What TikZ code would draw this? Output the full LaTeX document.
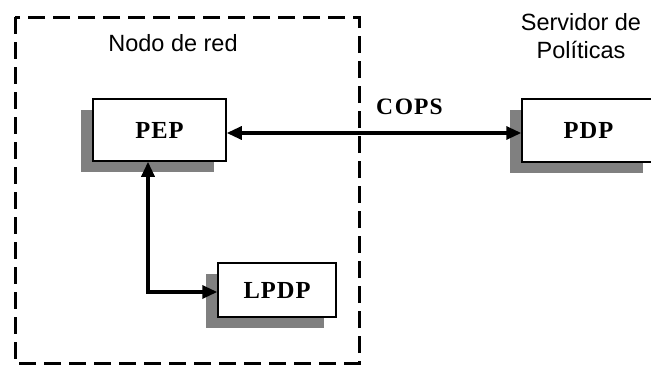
\documentclass[tikz,border=0pt]{standalone}
\usepackage{fontspec}
\setmainfont{Liberation Serif}
\newfontfamily\labelfont{Liberation Sans}
\usetikzlibrary{arrows.meta,shadows}

\definecolor{shadowgray}{HTML}{808080}

\tikzset{
  block/.style={draw=black, line width=1.5pt, fill=white, inner sep=0pt,
    font=\fontsize{24.5}{27}\selectfont\bfseries,
    drop shadow={shadow xshift=-12.5pt, shadow yshift=-11pt,
      fill=shadowgray, opacity=1}},
  caption/.style={font=\labelfont\fontsize{23.5}{28}\selectfont, align=center, inner sep=0pt},
  link/.style={line width=3.2pt, {Triangle[length=15pt,width=13pt]}-{Triangle[length=15pt,width=13pt]}},
  region/.style={line width=3pt, dash pattern=on 17pt off 8pt}
}

\begin{document}
\begin{tikzpicture}[x=1pt,y=-1pt]
  \useasboundingbox (0,0) rectangle (651,367);

  % network node boundary
  \draw[region] (15,17) rectangle (359,363);

  % headings
  \node[caption] (netnode) at (173,43) {Nodo de red};
  \node[caption] (server) at (581,36) {Servidor de\\Políticas};

  % policy components
  \node[block, minimum width=133pt, minimum height=62pt] (PEP) at (159.5,130) {P\kern1ptE\kern1ptP};
  \node[block, minimum width=133pt, minimum height=63pt] (PDP) at (588.5,130.5) {P\kern1ptD\kern1ptP};
  \node[block, minimum width=118pt, minimum height=54pt] (LPDP) at (277,290) {L\kern1ptP\kern1ptD\kern1ptP};

  % COPS protocol link
  \draw[link] ([yshift=-3pt]PEP.east) -- ([yshift=-2.5pt]PDP.west)
    node[pos=0.62, above=17pt, font=\fontsize{23.5}{26}\selectfont\bfseries, inner sep=0pt] (cops) {C\kern2ptO\kern1ptP\kern1ptS};

  % local decision point link
  \coordinate (corner) at (148,292);
  \draw[link] (PEP.south -| corner) -- (corner) -- (corner -| LPDP.west);
\end{tikzpicture}
\end{document}
